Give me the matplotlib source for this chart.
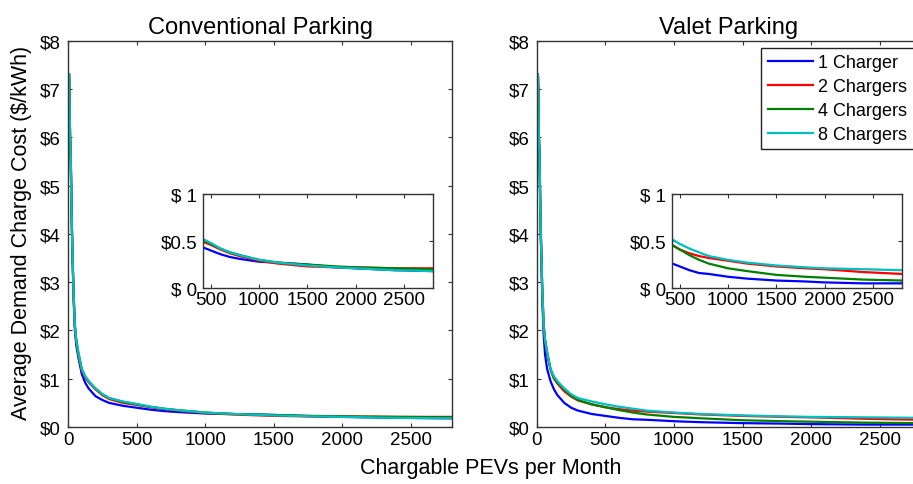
import numpy as np
import matplotlib
matplotlib.use('Agg')
import matplotlib.pyplot as plt

plt.rcParams['font.family'] = ['Liberation Sans', 'DejaVu Sans']

# chargeable PEVs per month (x sample points)
pevs = [8, 10, 15, 20, 25, 30, 40, 50, 60, 75, 100, 125, 150, 200, 250, 300,
        400, 500, 600, 700, 800, 1000, 1200, 1500, 1800, 2000, 2400, 2800]

# Conventional parking, $/kWh
conv_1 = [7.3, 7.0, 6.0, 5.6, 4.6, 3.9, 2.7, 2.0, 1.7, 1.45, 1.1, 0.92, 0.8, 0.64,
          0.56, 0.5, 0.44, 0.4, 0.36, 0.33, 0.31, 0.28, 0.27, 0.25, 0.22, 0.21, 0.19, 0.18]
conv_2 = [7.3, 7.0, 6.0, 5.6, 4.6, 3.9, 2.8, 2.1, 1.8, 1.5, 1.18, 1.02, 0.93, 0.78,
          0.66, 0.58, 0.5, 0.46, 0.41, 0.37, 0.34, 0.29, 0.26, 0.23, 0.22, 0.22, 0.21, 0.21]
conv_4 = [7.3, 7.0, 6.0, 5.6, 4.6, 3.9, 2.8, 2.1, 1.8, 1.55, 1.2, 1.05, 0.95, 0.8,
          0.68, 0.6, 0.52, 0.47, 0.42, 0.38, 0.35, 0.3, 0.27, 0.25, 0.23, 0.22, 0.21, 0.2]
conv_8 = [7.3, 7.0, 6.0, 5.6, 4.6, 3.9, 2.8, 2.1, 1.8, 1.55, 1.2, 1.05, 0.95, 0.8,
          0.68, 0.6, 0.53, 0.48, 0.42, 0.38, 0.35, 0.3, 0.27, 0.24, 0.22, 0.21, 0.19, 0.18]

# Valet parking, $/kWh
valet_1 = [7.3, 7.0, 6.0, 5.5, 4.5, 3.8, 2.6, 1.9, 1.5, 1.2, 0.95, 0.78, 0.66, 0.5,
           0.4, 0.34, 0.27, 0.23, 0.19, 0.16, 0.15, 0.12, 0.1, 0.08, 0.07, 0.06, 0.05, 0.05]
valet_2 = [7.3, 7.0, 6.0, 5.6, 4.6, 3.9, 2.8, 2.1, 1.8, 1.5, 1.18, 1.0, 0.9, 0.74,
           0.63, 0.55, 0.47, 0.41, 0.37, 0.34, 0.32, 0.29, 0.26, 0.23, 0.21, 0.2, 0.17, 0.15]
valet_4 = [7.3, 7.0, 6.0, 5.6, 4.6, 3.9, 2.8, 2.1, 1.8, 1.55, 1.2, 1.02, 0.92, 0.78,
           0.65, 0.56, 0.47, 0.41, 0.35, 0.3, 0.26, 0.21, 0.18, 0.14, 0.12, 0.11, 0.09, 0.08]
valet_8 = [7.3, 7.0, 6.0, 5.6, 4.6, 3.9, 2.8, 2.1, 1.8, 1.55, 1.2, 1.05, 0.95, 0.8,
           0.68, 0.6, 0.53, 0.47, 0.42, 0.38, 0.34, 0.3, 0.27, 0.24, 0.22, 0.21, 0.2, 0.19]

labels = ['1 Charger', '2 Chargers', '4 Chargers', '8 Chargers']
colors = ['#0000ff', '#ff0000', '#008000', '#00bfbf']

main_xticks = [0, 500, 1000, 1500, 2000, 2500]
main_yticks = [0, 1, 2, 3, 4, 5, 6, 7, 8]
main_yticklabels = ['$0', '$1', '$2', '$3', '$4', '$5', '$6', '$7', '$8']
inset_xticks = [500, 1000, 1500, 2000, 2500]
inset_yticks = [0, 0.5, 1]
inset_yticklabels = ['$ 0', '$0.5', '$ 1']


def style(ax, fs):
    ax.tick_params(direction='in', top=True, right=True, labelsize=fs,
                   length=3, width=0.8, color='#333333')
    ax.tick_params(axis='x', pad=3)
    ax.tick_params(axis='y', pad=5)
    for s in ax.spines.values():
        s.set_color('#333333')
        s.set_linewidth(1.0)


fig = plt.figure(figsize=(9.13, 4.85), dpi=100)
W = 0.4206
panels = [
    (0.0745, 'Conventional Parking', [conv_1, conv_2, conv_4, conv_8], 0.2223),
    (0.588, 'Valet Parking', [valet_1, valet_2, valet_4, valet_8], 0.736),
]
for x0, title, series, ix0 in panels:
    ax = fig.add_axes([x0, 0.1175, W, 0.796])
    for ys, lab, c in zip(series, labels, colors):
        ax.plot(pevs, ys, color=c, lw=1.6, label=lab)
    ax.set_xlim(0, 2800)
    ax.set_ylim(0, 8)
    ax.set_xticks(main_xticks)
    ax.set_yticks(main_yticks)
    ax.set_yticklabels(main_yticklabels)
    style(ax, 13.5)
    ax.set_title(title, fontsize=17, pad=6)
    if title == 'Valet Parking':
        leg = ax.legend(loc='upper right', fontsize=13, fancybox=False,
                        edgecolor='#222222', framealpha=1, handlelength=2.5,
                        borderaxespad=0.4, labelspacing=0.38,
                        handletextpad=0.3, borderpad=0.35)
        leg.get_frame().set_linewidth(1.0)

    ins = fig.add_axes([ix0, 0.404, 0.252, 0.194])
    for ys, c in zip(series, colors):
        ins.plot(pevs, ys, color=c, lw=1.6)
    ins.set_xlim(420, 2800)
    ins.set_ylim(0, 1)
    ins.set_xticks(inset_xticks)
    ins.set_yticks(inset_yticks)
    ins.set_yticklabels(inset_yticklabels)
    style(ins, 13.5)
    ins.tick_params(axis='y', pad=4)
    ins.tick_params(axis='x', pad=2)

fig.text(0.024, 0.52, 'Average Demand Charge Cost ($/kWh)', rotation=90,
         fontsize=15.5, ha='center', va='center')
fig.text(0.537, 0.033, 'Chargable PEVs per Month', fontsize=15.5,
         ha='center', va='center')

fig.savefig('out.png', dpi=100)
